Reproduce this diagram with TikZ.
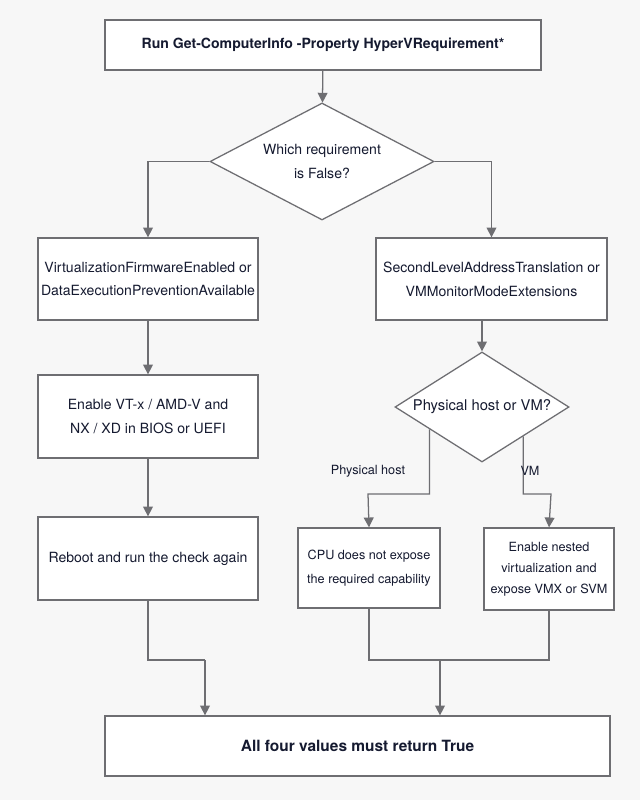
\documentclass[tikz,border=0pt]{standalone}
\usepackage{fontspec}
\setmainfont{TeX Gyre Heros}
\usetikzlibrary{shapes.geometric,arrows.meta,calc}
\definecolor{bgc}{HTML}{F7F7F7}
\definecolor{linec}{HTML}{6E6E72}
\definecolor{txtc}{HTML}{151A30}
\tikzset{
  box/.style={draw=linec, line width=0.9pt, fill=white, text=txtc, align=center, inner sep=0pt, font=\fontsize{10}{17}\selectfont},
  dec/.style={diamond, draw=linec, line width=0.9pt, fill=white, text=txtc, align=center, inner sep=0pt, font=\fontsize{10}{17}\selectfont},
  flow/.style={draw=linec, line width=0.9pt},
  arr/.style={flow, -{Triangle[length=7pt,width=7pt]}},
  lbl/.style={text=txtc, font=\fontsize{9}{11}\selectfont}
}
\begin{document}
\begin{tikzpicture}[x=0.025cm, y=-0.025cm]

        % Sfondo
        \fill[bgc] (0,0) rectangle (640,800);
        \useasboundingbox (0,0) rectangle (640,800);

        % Nodi
        \node[box, minimum width=436*0.025cm, minimum height=50*0.025cm, font=\fontsize{10}{17}\selectfont\bfseries] (start) at (323,45) {Run Get-ComputerInfo -Property HyperVRequirement*};
        \node[dec, minimum width=224*0.025cm, minimum height=117*0.025cm, aspect=1.9] (which) at (322,161.5) {Which requirement\\is False?};
        \node[box, minimum width=220*0.025cm, minimum height=82*0.025cm] (fw) at (148,279) {VirtualizationFirmwareEnabled or\\DataExecutionPreventionAvailable};
        \node[box, minimum width=231*0.025cm, minimum height=82*0.025cm] (slat) at (491.5,279) {SecondLevelAddressTranslation or\\VMMonitorModeExtensions};
        \node[box, minimum width=220*0.025cm, minimum height=83*0.025cm] (bios) at (148,416.5) {Enable VT-x / AMD-V and\\NX / XD in BIOS or UEFI};
        \node[box, minimum width=220*0.025cm, minimum height=83*0.025cm] (reboot) at (148,558.5) {Reboot and run the check again};
        \node[dec, minimum width=174*0.025cm, minimum height=110*0.025cm, aspect=1.6, font=\fontsize{10.5}{17}\selectfont] (host) at (482,407) {Physical host or VM?};
        \node[box, minimum width=142*0.025cm, minimum height=80*0.025cm, font=\fontsize{9}{17}\selectfont] (cpu) at (369,568) {CPU does not expose\\the required capability};
        \node[box, minimum width=130*0.025cm, minimum height=82*0.025cm, font=\fontsize{9}{15}\selectfont] (nested) at (549,569) {Enable nested\\virtualization and\\expose VMX or SVM};
        \node[box, minimum width=505*0.025cm, minimum height=60*0.025cm, font=\fontsize{11}{17}\selectfont\bfseries] (done) at (357.5,746) {All four values must return True};

        % Connettori
        \draw[arr] (start) -- (which);
        \draw[arr] (which.west) -| (fw.north);
        \draw[arr] (which.east) -| (slat.north);
        \draw[arr] (fw) -- (bios);
        \draw[arr] (bios) -- (reboot);
        \draw[arr] (host.north |- slat.south) -- (host.north);

        % Rami host / VM
        \coordinate (kl) at (368,494);
        \coordinate (kr) at (551,494);
        \draw[arr] ($(host.west)!0.4!(host.south)$) |- (kl) -- (cpu.north);
        \draw[arr] ($(host.east)!0.53!(host.south)$) |- (kr) -- (nested.north);
        \node[lbl] (lphys) at (368,471) {Physical host};
        \node[lbl] (lvm) at (530,471) {VM};

        % Chiusura
        \coordinate (jl) at (205,660);
        \coordinate (jr) at (440,660);
        \draw[flow] (reboot.south) |- (jl);
        \draw[arr] (jl) -- (jl |- done.north);
        \draw[flow] (cpu.south) |- (jr) -| (nested.south);
        \draw[arr] (jr) -- (jr |- done.north);

\end{tikzpicture}
\end{document}
